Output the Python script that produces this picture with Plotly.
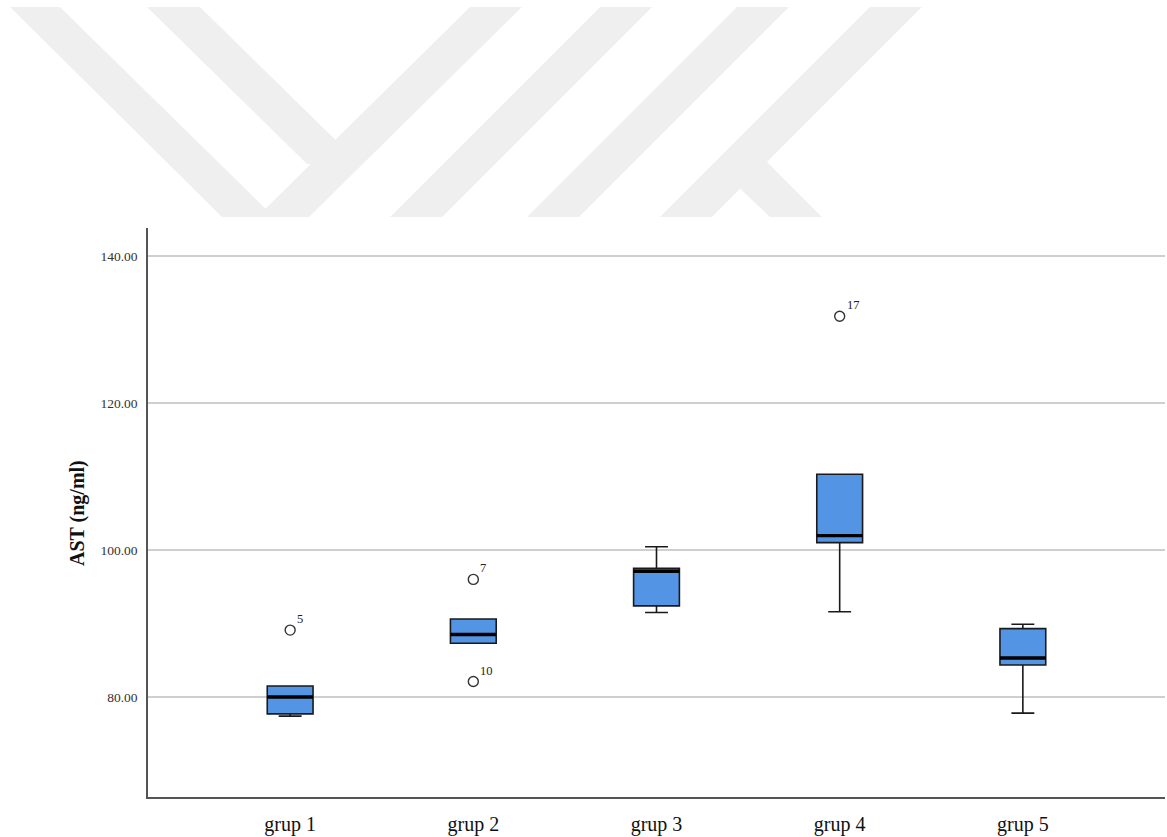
import plotly.graph_objects as go

# Group labels and box-plot summary statistics (AST, ng/ml)
groups = ["grup 1", "grup 2", "grup 3", "grup 4", "grup 5"]
lower_whisker = [77.4, 87.3, 91.5, 91.6, 77.8]
q1 = [77.7, 87.3, 92.4, 101.0, 84.35]
median = [80.0, 88.5, 97.1, 101.95, 85.3]
q3 = [81.5, 90.6, 97.5, 110.3, 89.3]
upper_whisker = [81.5, 90.6, 100.45, 110.3, 89.9]

# Outlying cases: group index, value, case number
outlier_group = [0, 1, 1, 3]
outlier_value = [89.1, 96.0, 82.1, 131.8]
outlier_case = ["5", "7", "10", "17"]

y_ticks = [80, 100, 120, 140]

W, H = 1167, 837
ML, MR, MT, MB = 148, 2, 228, 40
BOX_W = 0.25
BOX_FILL = "#5394E4"
EDGE = "#1a1a1a"
SERIF = "Liberation Serif, Times New Roman, serif"


def px_x(x):
    return (x - ML) / (W - ML - MR)


def px_y(y):
    return (H - MB - y) / (H - MT - MB)


fig = go.Figure()

xs = list(range(len(groups)))
fig.add_trace(go.Box(
    x=xs,
    q1=q1, median=median, q3=q3,
    lowerfence=lower_whisker, upperfence=upper_whisker,
    width=BOX_W, whiskerwidth=0.5,
    fillcolor=BOX_FILL,
    line=dict(color=EDGE, width=1.6),
    boxpoints=False,
    hoverinfo="skip",
    showlegend=False,
))

# Heavier median bars drawn over each box
mx, my = [], []
for i, m in enumerate(median):
    mx += [i - BOX_W / 2, i + BOX_W / 2, None]
    my += [m, m, None]
fig.add_trace(go.Scatter(
    x=mx, y=my, mode="lines",
    line=dict(color="#000000", width=3.4),
    hoverinfo="skip", showlegend=False,
))

# Outliers as open circles
fig.add_trace(go.Scatter(
    x=outlier_group, y=outlier_value, mode="markers",
    marker=dict(symbol="circle-open", size=10,
                color="#333333", line=dict(width=1.4, color="#333333")),
    hoverinfo="skip", showlegend=False,
))

annotations = []
for g, v, c in zip(outlier_group, outlier_value, outlier_case):
    annotations.append(dict(
        x=g, y=v, xref="x", yref="y", text=c, showarrow=False,
        xanchor="left", yanchor="bottom", xshift=5, yshift=2,
        font=dict(family=SERIF, size=12.5, color="#222222"),
    ))

# Vertical axis title
annotations.append(dict(
    x=px_x(77), y=px_y(513), xref="paper", yref="paper",
    text="<b>AST (ng/ml)</b>", textangle=-90, showarrow=False,
    xanchor="center", yanchor="middle",
    font=dict(family=SERIF, size=20, color="#111111"),
))

# Faint background emblem in the top margin
emblem = [
    [(10, 7), (60, 7), (274, 217), (222, 217)],
    [(147, 7), (200, 7), (360, 164), (307, 164)],
    [(470, 7), (522, 7), (309, 217), (257, 217)],
    [(600, 7), (652, 7), (442, 217), (390, 217)],
    [(737, 7), (789, 7), (579, 217), (527, 217)],
    [(870, 7), (922, 7), (712, 217), (660, 217)],
    [(767, 162), (822, 217), (770, 217), (715, 165)],
]
shapes = []
for poly in emblem:
    path = "M " + " L ".join(f"{px_x(x):.5f},{px_y(y):.5f}" for x, y in poly) + " Z"
    shapes.append(dict(type="path", path=path, xref="paper", yref="paper",
                       fillcolor="#EFEFEF", line=dict(width=0), layer="below"))

fig.update_layout(
    width=W, height=H,
    margin=dict(l=ML, r=MR, t=MT, b=MB, pad=0),
    paper_bgcolor="white", plot_bgcolor="white",
    showlegend=False,
    shapes=shapes,
    annotations=annotations,
    xaxis=dict(
        range=[-0.776, 4.776],
        tickmode="array", tickvals=xs, ticktext=groups,
        showgrid=False, zeroline=False,
        showline=True, linecolor="#555555", linewidth=1.5,
        ticks="", ticklabelstandoff=8,
        tickfont=dict(family=SERIF, size=20, color="#111111"),
        fixedrange=True,
    ),
    yaxis=dict(
        range=[66.39, 143.81],
        tickmode="array", tickvals=y_ticks,
        ticktext=[f"{t:.2f}" for t in y_ticks],
        showgrid=True, gridcolor="#CFCFCF", gridwidth=1.5,
        zeroline=False,
        showline=True, linecolor="#555555", linewidth=1.5,
        ticks="", ticklabelstandoff=6,
        tickfont=dict(family=SERIF, size=13.5, color="#333333"),
        fixedrange=True,
    ),
)

fig.write_html("out.html")
